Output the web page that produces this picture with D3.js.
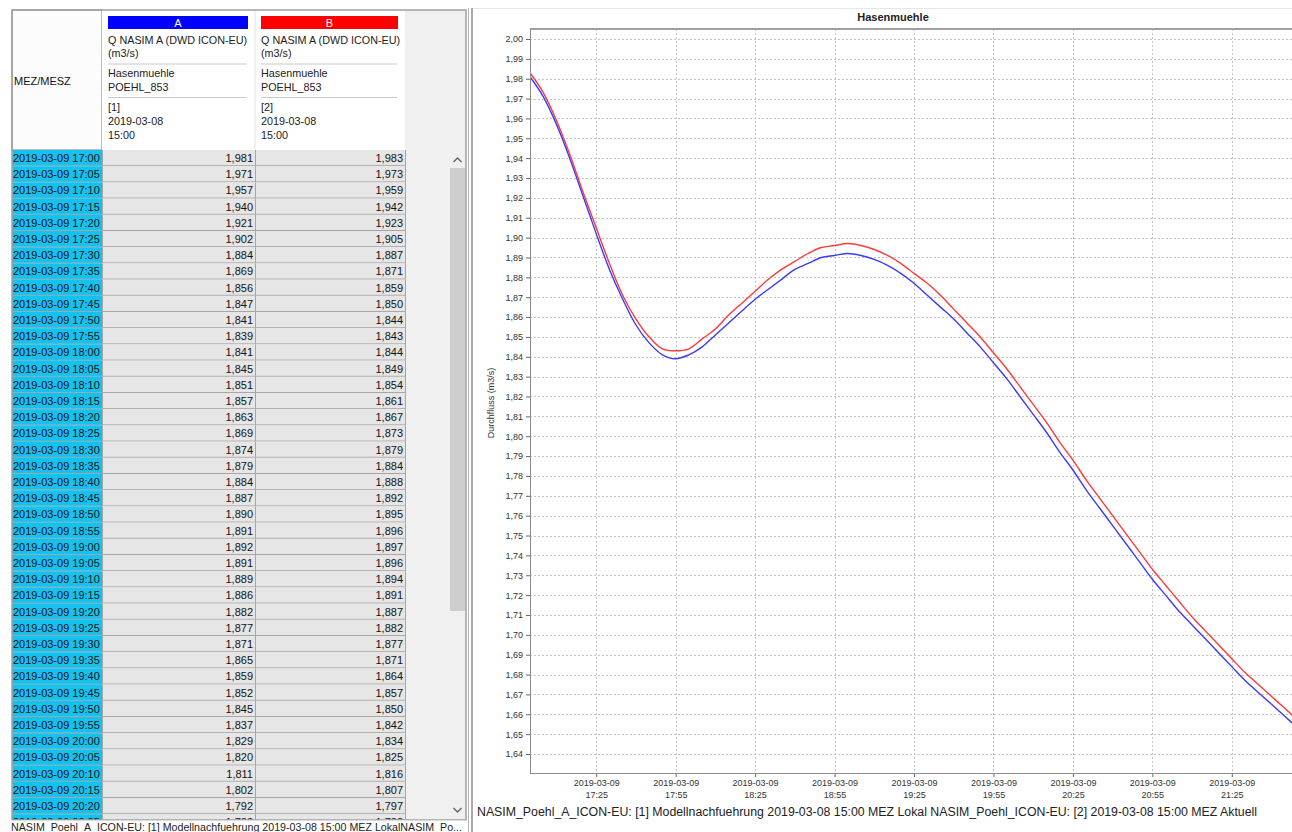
<!DOCTYPE html>
<html>
<head>
<meta charset="utf-8">
<title>Hasenmuehle</title>
<script src="https://cdn.jsdelivr.net/npm/d3@7"></script>
<style>
  body { margin: 0; background: #fff; overflow: hidden; }
  svg { display: block; font-family: "Liberation Sans", Arial, sans-serif; }
</style>
</head>
<body>
<svg id="view" width="1292" height="832"></svg>
<script>
const runDay = "2019-03-09";
const times = [
  "17:00","17:05","17:10","17:15","17:20","17:25","17:30","17:35","17:40","17:45","17:50","17:55",
  "18:00","18:05","18:10","18:15","18:20","18:25","18:30","18:35","18:40","18:45","18:50","18:55",
  "19:00","19:05","19:10","19:15","19:20","19:25","19:30","19:35","19:40","19:45","19:50","19:55",
  "20:00","20:05","20:10","20:15","20:20","20:25","20:30","20:35","20:40","20:45","20:50","20:55",
  "21:00","21:05","21:10","21:15","21:20","21:25","21:30","21:35","21:40","21:45","21:50"
];
const seriesA = [
  1.981,1.971,1.957,1.940,1.921,1.902,1.884,1.869,1.856,1.847,1.841,1.839,
  1.841,1.845,1.851,1.857,1.863,1.869,1.874,1.879,1.884,1.887,1.890,1.891,
  1.892,1.891,1.889,1.886,1.882,1.877,1.871,1.865,1.859,1.852,1.845,1.837,
  1.829,1.820,1.811,1.802,1.792,1.783,1.773,1.764,1.755,1.746,1.737,1.728,
  1.720,1.712,1.705,1.698,1.691,1.684,1.677,1.671,1.665,1.659,1.653
];
const seriesB = [
  1.983,1.973,1.959,1.942,1.923,1.905,1.887,1.871,1.859,1.850,1.844,1.843,
  1.844,1.849,1.854,1.861,1.867,1.873,1.879,1.884,1.888,1.892,1.895,1.896,
  1.897,1.896,1.894,1.891,1.887,1.882,1.877,1.871,1.864,1.857,1.850,1.842,
  1.834,1.825,1.816,1.807,1.797,1.788,1.778,1.769,1.760,1.751,1.742,1.733,
  1.725,1.717,1.709,1.702,1.695,1.688,1.681,1.675,1.669,1.663,1.657
];
const xTickTimes = ["17:25","17:55","18:25","18:55","19:25","19:55","20:25","20:55","21:25"];
const yTicks = [1.64,1.65,1.66,1.67,1.68,1.69,1.70,1.71,1.72,1.73,1.74,1.75,1.76,1.77,1.78,1.79,1.80,
  1.81,1.82,1.83,1.84,1.85,1.86,1.87,1.88,1.89,1.90,1.91,1.92,1.93,1.94,1.95,1.96,1.97,1.98,1.99,2.00];
const seriesNames = ["A", "B"];
const seriesColors = ["#3a3aff", "#ff3a3a"];
const barColors = ["#0000ff", "#ff0000"];
const headerA = ["Q NASIM A (DWD ICON-EU)", "(m3/s)", "Hasenmuehle", "POEHL_853", "[1]", "2019-03-08", "15:00"];
const headerB = ["Q NASIM A (DWD ICON-EU)", "(m3/s)", "Hasenmuehle", "POEHL_853", "[2]", "2019-03-08", "15:00"];
const chartTitle = "Hasenmuehle";
const yLabel = "Durchfluss (m3/s)";
const chartFooter = "NASIM_Poehl_A_ICON-EU: [1] Modellnachfuehrung 2019-03-08 15:00 MEZ Lokal NASIM_Poehl_ICON-EU: [2] 2019-03-08 15:00 MEZ Aktuell";
const tableFooter = "NASIM_Poehl_A_ICON-EU: [1] Modellnachfuehrung 2019-03-08 15:00 MEZ LokalNASIM_Po...";

const parse = d3.timeParse("%Y-%m-%d %H:%M");
const de = d3.formatLocale({ decimal: ",", thousands: ".", grouping: [3], currency: ["", " €"] });
const fmt2 = de.format(".2f"), fmt3 = de.format(".3f");

const rows = times.map((t, i) => ({ label: runDay + " " + t, date: parse(runDay + " " + t), a: seriesA[i], b: seriesB[i] }));

const svg = d3.select("#view");

// ---------- LEFT: TABLE ----------
const tbl = { left: 12, right: 466, top: 10, head: 150, bottom: 820, rowH: 16.2 };
const colX = [12, 102, 255, 405];

svg.append("rect").attr("x", 0).attr("y", 0).attr("width", 470).attr("height", 832).attr("fill", "#fff");
svg.append("rect").attr("x", colX[3]).attr("y", tbl.top).attr("width", tbl.right - colX[3]).attr("height", tbl.bottom - tbl.top)
  .attr("fill", "#f0f0f0");

// header
svg.append("rect").attr("x", colX[0]).attr("y", tbl.top).attr("width", colX[1] - colX[0]).attr("height", tbl.head - tbl.top)
  .attr("fill", "#fcfcfc").attr("stroke", "#a8a8a8").attr("stroke-width", 1.5);
svg.append("text").attr("x", 14).attr("y", 85).attr("font-size", 11).attr("fill", "#111").text("MEZ/MESZ");

const headers = [headerA, headerB];
const lineY = [44, 57, 77, 91, 111, 125, 139];
headers.forEach((h, c) => {
  const x0 = colX[c + 1], x1 = colX[c + 2];
  const g = svg.append("g");
  g.append("rect").attr("x", x0).attr("y", tbl.top).attr("width", x1 - x0).attr("height", tbl.head - tbl.top).attr("fill", "#fff");
  g.append("rect").attr("x", x0 + 6).attr("y", 16).attr("width", x1 - x0 - 13).attr("height", 13).attr("fill", barColors[c]);
  g.append("text").attr("x", (x0 + x1) / 2 - 0.5).attr("y", 26.5).attr("text-anchor", "middle").attr("font-size", 11)
    .attr("fill", "#fff").text(seriesNames[c]);
  g.selectAll("text.h").data(h).join("text").attr("class", "h")
    .attr("x", x0 + 6).attr("y", (d, i) => lineY[i]).attr("font-size", 10.8).attr("fill", "#222").text(d => d);
  [64, 97.5].forEach(y => g.append("line").attr("x1", x0 + 6).attr("x2", x1 - 8).attr("y1", y).attr("y2", y)
    .attr("stroke", "#c8c8c8"));
});
svg.append("line").attr("x1", colX[2]).attr("x2", colX[2]).attr("y1", tbl.top).attr("y2", tbl.head).attr("stroke", "#e4e4e4");

// body rows (only those reaching into the visible part of the grid)
svg.append("clipPath").attr("id", "tclip").append("rect")
  .attr("x", 0).attr("y", tbl.head).attr("width", 470).attr("height", tbl.bottom - tbl.head);
const rowScale = d3.scaleBand().domain(d3.range(rows.length)).range([tbl.head, tbl.head + rows.length * tbl.rowH]);
const shown = rows.filter((d, i) => rowScale(i) < tbl.bottom);
const body = svg.append("g").attr("clip-path", "url(#tclip)");
const row = body.selectAll("g.row").data(shown).join("g").attr("class", "row")
  .attr("transform", (d, i) => `translate(0,${rowScale(i)})`);
row.append("rect").attr("x", colX[0]).attr("width", colX[1] - colX[0]).attr("height", tbl.rowH).attr("fill", "#14c2f0");
row.append("rect").attr("x", colX[1]).attr("width", colX[3] - colX[1]).attr("height", tbl.rowH).attr("fill", "#e6e6e6");
row.append("line").attr("x1", colX[0]).attr("x2", colX[3]).attr("y1", tbl.rowH - 0.5).attr("y2", tbl.rowH - 0.5)
  .attr("stroke", "#a6a6a6");
row.selectAll("line.v").data([colX[1], colX[2], colX[3]]).join("line").attr("class", "v")
  .attr("x1", d => d + 0.5).attr("x2", d => d + 0.5).attr("y1", 0).attr("y2", tbl.rowH).attr("stroke", "#a6a6a6");
row.append("text").attr("x", 13).attr("y", 12).attr("font-size", 11).attr("fill", "#111").text(d => d.label);
row.append("text").attr("x", colX[2] - 2).attr("y", 12).attr("font-size", 11).attr("text-anchor", "end")
  .attr("fill", "#111").text(d => fmt3(d.a));
row.append("text").attr("x", colX[3] - 2).attr("y", 12).attr("font-size", 11).attr("text-anchor", "end")
  .attr("fill", "#111").text(d => fmt3(d.b));

// scrollbar
svg.append("rect").attr("x", 450).attr("y", 168).attr("width", 15).attr("height", 443).attr("fill", "#cdcdcd");
svg.append("path").attr("d", "M453.5,162 L457.5,158 L461.5,162").attr("fill", "none").attr("stroke", "#606060").attr("stroke-width", 1.3);
svg.append("path").attr("d", "M453.5,808 L457.5,812 L461.5,808").attr("fill", "none").attr("stroke", "#606060").attr("stroke-width", 1.3);

// table frame
svg.append("rect").attr("x", tbl.left).attr("y", tbl.top).attr("width", tbl.right - tbl.left).attr("height", tbl.bottom - tbl.top)
  .attr("fill", "none").attr("stroke", "#a0a0a0").attr("stroke-width", 1.5);
svg.append("rect").attr("x", 0).attr("y", tbl.bottom + 0.5).attr("width", 470).attr("height", 12).attr("fill", "#fff");
svg.append("text").attr("x", 11).attr("y", 831).attr("font-size", 11.5).attr("fill", "#222")
  .attr("textLength", 451).attr("lengthAdjust", "spacingAndGlyphs").text(tableFooter);

// splitter
svg.append("line").attr("x1", 468.5).attr("x2", 468.5).attr("y1", 8).attr("y2", 832).attr("stroke", "#b4b4b4");
svg.append("line").attr("x1", 472).attr("x2", 472).attr("y1", 8).attr("y2", 832).attr("stroke", "#8c8c8c").attr("stroke-width", 1.5);
svg.append("line").attr("x1", 473).attr("x2", 1292).attr("y1", 8.5).attr("y2", 8.5).attr("stroke", "#e6e6e6");

// ---------- RIGHT: CHART ----------
const plot = { left: 530, top: 29, bottom: 773, right: 1300 };
const x = d3.scaleTime()
  .domain([parse(runDay + " 17:00"), parse(runDay + " 21:50")])
  .range([plot.left, plot.left + 290 * 79.45 / 30]);
const y = d3.scaleLinear().domain([1.64, 2.00]).range([754, 39]);
const tickDates = xTickTimes.map(t => parse(runDay + " " + t));

svg.append("text").attr("x", 893).attr("y", 21).attr("text-anchor", "middle").attr("font-size", 11)
  .attr("font-weight", "bold").attr("fill", "#222").text(chartTitle);

// grid
const grid = svg.append("g").attr("stroke", "#c4c4c4").attr("stroke-dasharray", "2,2");
grid.selectAll("line.gy").data(yTicks).join("line").attr("class", "gy")
  .attr("x1", plot.left).attr("x2", plot.right).attr("y1", d => Math.round(y(d)) + 0.5).attr("y2", d => Math.round(y(d)) + 0.5);
grid.selectAll("line.gx").data(tickDates).join("line").attr("class", "gx")
  .attr("x1", d => Math.round(x(d)) + 0.5).attr("x2", d => Math.round(x(d)) + 0.5).attr("y1", plot.top).attr("y2", plot.bottom);

// lines
svg.append("clipPath").attr("id", "pclip").append("rect")
  .attr("x", plot.left).attr("y", plot.top).attr("width", plot.right - plot.left).attr("height", plot.bottom - plot.top);
const lines = svg.append("g").attr("clip-path", "url(#pclip)");
[seriesA, seriesB].forEach((s, k) => {
  const line = d3.line().curve(d3.curveCatmullRom.alpha(0.5)).x((d, i) => x(rows[i].date)).y(d => y(d));
  lines.append("path").datum(s).attr("d", line).attr("fill", "none")
    .attr("stroke", seriesColors[k]).attr("stroke-width", 1.4);
});

// axes
const yAxis = d3.axisLeft(y).tickValues(yTicks).tickFormat(fmt2).tickSize(4).tickPadding(3);
const gy = svg.append("g").attr("transform", `translate(${plot.left},0)`).call(yAxis);
gy.select(".domain").remove();
gy.selectAll("text").attr("font-size", 9).attr("fill", "#333").attr("font-family", null);
gy.selectAll("line").attr("stroke", "#666");

const xAxis = d3.axisBottom(x).tickValues(tickDates).tickSize(4).tickFormat("");
const gx = svg.append("g").attr("transform", `translate(0,${plot.bottom})`).call(xAxis);
gx.select(".domain").remove();
gx.selectAll("line").attr("stroke", "#666");
const dayFmt = d3.timeFormat("%Y-%m-%d"), hmFmt = d3.timeFormat("%H:%M");
gx.selectAll(".tick text").attr("y", null).attr("dy", null).attr("font-size", 9).attr("fill", "#333")
  .attr("font-family", null)
  .each(function (d) {
    const t = d3.select(this);
    t.append("tspan").attr("x", 0).attr("y", 13).text(dayFmt(d));
    t.append("tspan").attr("x", 0).attr("y", 25).text(hmFmt(d));
  });

svg.append("line").attr("x1", plot.left).attr("x2", plot.right).attr("y1", plot.top).attr("y2", plot.top)
  .attr("stroke", "#a0a0a0").attr("stroke-width", 2);
svg.append("line").attr("x1", plot.left + 0.5).attr("x2", plot.left + 0.5).attr("y1", plot.top).attr("y2", plot.bottom)
  .attr("stroke", "#8c8c8c");
svg.append("line").attr("x1", plot.left).attr("x2", plot.right).attr("y1", plot.bottom + 0.5).attr("y2", plot.bottom + 0.5)
  .attr("stroke", "#8c8c8c");

svg.append("text").attr("transform", "translate(494,403) rotate(-90)").attr("text-anchor", "middle")
  .attr("font-size", 9).attr("fill", "#333").text(yLabel);

svg.append("text").attr("x", 477).attr("y", 816).attr("font-size", 12.5).attr("fill", "#222")
  .attr("textLength", 780).attr("lengthAdjust", "spacingAndGlyphs").text(chartFooter);
</script>
</body>
</html>
